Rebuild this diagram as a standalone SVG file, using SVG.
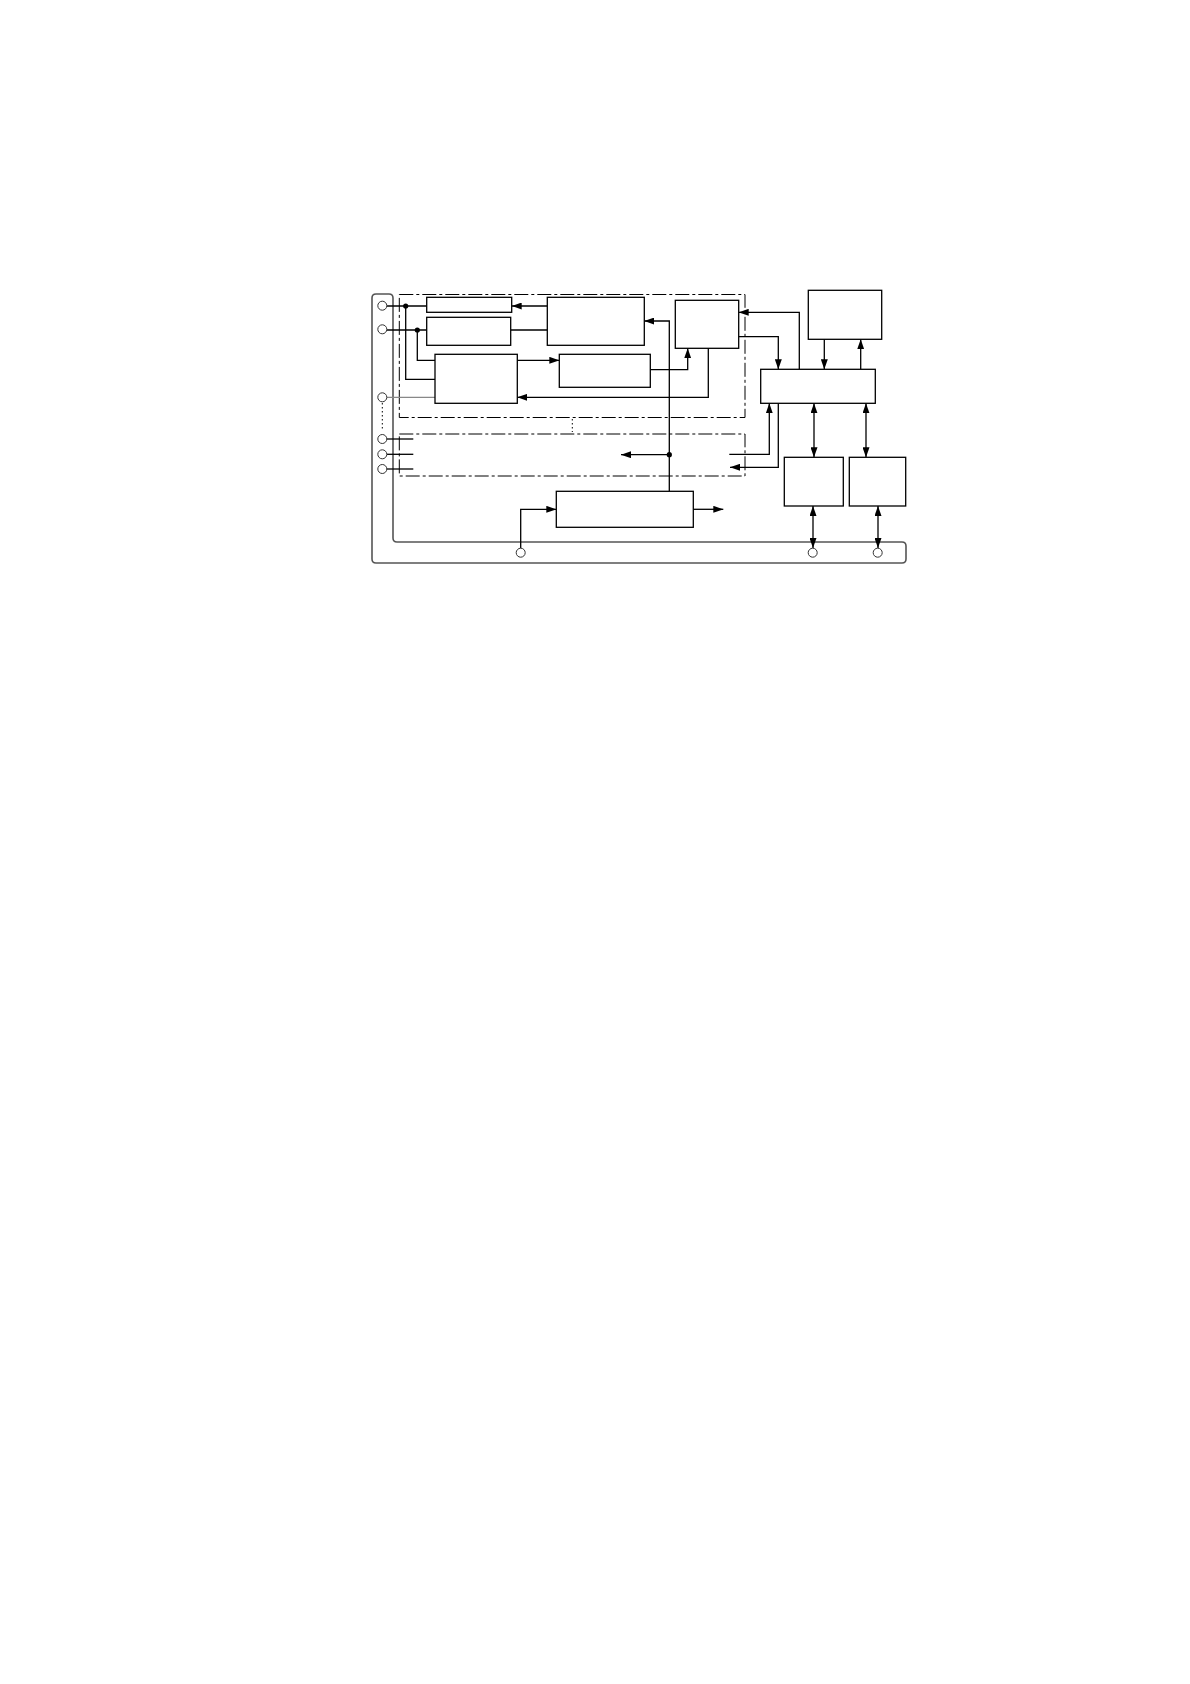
<svg xmlns="http://www.w3.org/2000/svg" width="1190" height="1684" viewBox="0 0 1190 1684">
<defs>
<marker id="a" viewBox="0 0 10 7" refX="10" refY="3.5" markerWidth="10" markerHeight="7" markerUnits="userSpaceOnUse" orient="auto-start-reverse">
<path d="M0,0 L10,3.5 L0,7 Z" fill="#000"/>
</marker>
<style>
.blk{fill:#fff;stroke:#000;stroke-width:1.3}
.dd{fill:none;stroke:#000;stroke-width:1;stroke-dasharray:14 3 3 3}
.ln{fill:none;stroke:#000;stroke-width:1.3}
.ar{marker-end:url(#a)}
.da{marker-start:url(#a);marker-end:url(#a)}
.term{fill:#fff;stroke:#333;stroke-width:1}
.dot{fill:#000}
.dotted{fill:none;stroke:#000;stroke-width:1;stroke-dasharray:1.5 2.5}
</style>
</defs>
<rect width="1190" height="1684" fill="#fff"/>
<g id="frame">
<path d="M376,294 H389 Q393,294 393,298 V538 Q393,542 397,542 H902 Q906,542 906,546 V559 Q906,563 902,563 H376 Q372,563 372,559 V298 Q372,294 376,294 Z" fill="none" stroke="#555" stroke-width="1.6"/>
</g>
<g id="regions">
<rect class="dd" x="399.3" y="294.5" width="345.7" height="123"/>
<rect class="dd" x="399.3" y="434" width="345.7" height="42"/>
<line class="dotted" x1="572.3" y1="419" x2="572.3" y2="432"/>
<line class="dotted" x1="382.3" y1="403" x2="382.3" y2="430"/>
</g>
<g id="connectors">
<path class="ln" d="M386.8,306 H426.7"/>
<path class="ln" d="M405.7,306 V379.3 H435"/>
<path class="ln" d="M386.8,330 H426.7"/>
<path class="ln" d="M417.3,330 V360.3 H435"/>
<path d="M386.8,397.3 H435" fill="none" stroke="#888" stroke-width="1.3"/>
<path class="ln ar" d="M547.3,306 H511.7"/>
<path class="ln" d="M510.7,330 H547.3"/>
<path class="ln ar" d="M517.3,360.3 H559.3"/>
<path class="ln ar" d="M650.3,369.7 H687.7 V348.3"/>
<path class="ln ar" d="M708.3,348.3 V397.3 H517.3"/>
<path class="ln ar" d="M669.3,491.3 V321 H644.3"/>
<path class="ln ar" d="M669.3,454.7 H621"/>
<path class="ln ar" d="M520.7,548.2 V509.3 H556.3"/>
<path class="ln ar" d="M693.3,509.3 H723.3"/>
<path class="ln ar" d="M799.3,369.3 V312.3 H738.7"/>
<path class="ln ar" d="M738.7,336.7 H778.3 V369.3"/>
<path class="ln ar" d="M824.3,339.3 V369.3"/>
<path class="ln ar" d="M860.7,369.3 V339.3"/>
<path class="ln ar" d="M729.3,454.3 H769.3 V403.3"/>
<path class="ln ar" d="M778.3,403.3 V467.3 H730"/>
<path class="ln da" d="M814,403.3 V457.3"/>
<path class="ln da" d="M866,403.3 V457.3"/>
<path class="ln da" d="M813,506 V548"/>
<path class="ln da" d="M878,506 V548"/>
<path class="ln" d="M386.8,439 H413.3"/>
<path class="ln" d="M386.8,454.3 H413.3"/>
<path class="ln" d="M386.8,469 H413.3"/>
<circle class="dot" cx="405.7" cy="306" r="2.6"/>
<circle class="dot" cx="417.3" cy="330" r="2.6"/>
<circle class="dot" cx="669.3" cy="454.7" r="2.6"/>
</g>
<g id="terminals">
<circle class="term" cx="382.3" cy="305.7" r="4.5"/>
<circle class="term" cx="382.3" cy="329.3" r="4.5"/>
<circle class="term" cx="382.3" cy="397.3" r="4.5"/>
<circle class="term" cx="382.3" cy="439" r="4.5"/>
<circle class="term" cx="382.3" cy="454.3" r="4.5"/>
<circle class="term" cx="382.3" cy="469" r="4.5"/>
<circle class="term" cx="520.7" cy="552.7" r="4.5"/>
<circle class="term" cx="812.7" cy="552.7" r="4.5"/>
<circle class="term" cx="877.7" cy="552.7" r="4.5"/>
</g>
<g id="nodeA"><rect class="blk" x="426.7" y="297.3" width="85" height="15"/></g>
<g id="nodeB"><rect class="blk" x="426.7" y="317.3" width="84" height="28"/></g>
<g id="nodeC"><rect class="blk" x="435" y="354.3" width="82.3" height="49"/></g>
<g id="nodeD"><rect class="blk" x="547.3" y="297.3" width="97" height="48"/></g>
<g id="nodeE"><rect class="blk" x="559.3" y="354.3" width="91" height="33"/></g>
<g id="nodeF"><rect class="blk" x="675.3" y="300.3" width="63.4" height="48"/></g>
<g id="nodeG"><rect class="blk" x="556.3" y="491.3" width="137" height="36"/></g>
<g id="nodeH"><rect class="blk" x="760.7" y="369.3" width="114.6" height="34"/></g>
<g id="nodeI"><rect class="blk" x="808.3" y="290.3" width="73.4" height="49"/></g>
<g id="nodeJ"><rect class="blk" x="784.3" y="457.3" width="59" height="48.7"/></g>
<g id="nodeK"><rect class="blk" x="849.3" y="457.3" width="56.4" height="48.7"/></g>
</svg>
